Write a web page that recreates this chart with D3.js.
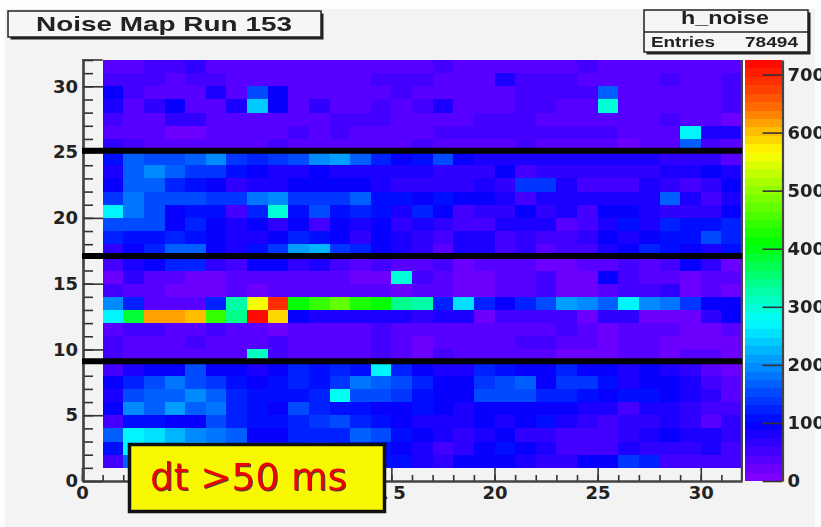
<!DOCTYPE html>
<html>

<head>
    <meta charset="utf-8">
    <style>
        html, body {
            margin: 0;
            background: #fdfdfd;
            overflow: hidden;
        }

        svg {
            display: block;
            filter: blur(0.55px);
        }

        text {
            font-family: 'DejaVu Sans', sans-serif;
            font-weight: bold;
            fill: #222;
        }

        .box-text {
            font-family: 'Liberation Sans', Arial, sans-serif;
            font-weight: bold;
        }

        .tag-text {
            font-family: 'DejaVu Sans', sans-serif;
            font-weight: normal;
            fill: #f00000;
            filter: drop-shadow(1.2px 1.2px 0.5px #444);
        }
    </style>
</head>

<body>
    <svg width="821" height="527"></svg>
</body>

<script src="https://d3js.org/d3.v7.min.js"></script>

<script>
//-----------------------------DATA-----------------------------//
//Each row is one y bin, values for x bins 1 to 31 (row 1 and 2 partly hidden by the yellow box, guessed there)
let row31 = [35,35,45,45,60,35,30,30,30,30,30,30,30,35,35,35,45,35,35,35,35,35,35,45,35,35,40,40,35,40,40]
let row30 = [50,50,50,35,45,45,30,30,30,30,30,30,30,50,50,45,35,40,40,80,45,45,55,35,35,35,35,45,35,40,45]
let row29 = [95,50,35,35,35,75,30,150,95,30,30,30,30,35,50,35,30,40,40,30,45,45,55,45,160,35,35,35,35,40,45]
let row28 = [80,35,60,95,30,35,75,235,95,35,70,35,35,50,35,50,85,40,40,40,45,45,35,35,300,35,35,35,35,40,50]
let row27 = [45,35,35,70,60,35,35,35,35,35,35,50,50,50,35,35,30,40,50,50,50,40,40,40,40,35,35,45,35,35,20]
let row26 = [40,35,30,20,18,30,30,30,30,50,35,50,35,35,35,35,45,45,45,55,55,45,45,45,45,35,40,40,270,80,80]
let row25 = [60,55,35,30,30,30,30,30,50,35,35,35,35,35,35,45,35,30,30,35,45,30,35,30,40,25,35,35,160,50,35]
let row24 = [105,170,150,150,170,190,140,130,140,150,200,205,160,120,100,105,150,90,75,85,85,85,85,85,75,85,85,70,70,60,40]
let row23 = [80,170,195,165,140,140,110,100,85,85,100,80,80,80,80,85,65,65,65,100,45,70,70,70,70,65,65,85,85,100,75]
let row22 = [100,170,170,130,110,100,60,75,75,90,90,95,95,80,65,70,60,60,85,70,140,140,75,55,55,55,85,70,50,70,95]
let row21 = [140,185,150,150,150,135,135,175,200,135,135,135,160,105,110,90,105,90,90,75,50,75,75,75,85,85,85,170,75,50,85]
let row20 = [270,185,150,100,110,105,55,125,295,110,145,110,120,105,80,130,100,50,70,70,90,60,75,55,100,100,85,70,60,60,100]
let row19 = [145,145,145,100,125,95,75,95,60,95,50,90,80,95,60,85,60,55,55,75,75,75,35,50,80,110,85,130,110,110,130]
let row18 = [120,105,105,125,110,100,80,80,100,125,110,95,70,95,80,70,55,85,75,55,70,55,55,70,100,80,100,110,110,145,120]
let row17 = [70,100,130,160,160,100,85,110,140,210,230,140,120,100,85,70,30,80,75,50,70,35,55,55,85,95,130,110,100,75,110]
let row16 = [55,80,100,125,125,70,45,90,100,60,80,55,40,45,40,30,55,25,40,35,35,25,25,40,40,55,40,50,95,60,25]
let row15 = [25,60,40,40,25,25,35,35,35,35,35,35,25,25,300,50,40,25,25,35,35,50,25,25,95,50,35,35,25,40,40]
let row14 = [55,40,40,25,25,25,40,25,35,35,35,35,35,35,25,30,40,25,25,35,35,50,25,25,35,50,50,65,25,35,25]
let row13 = [200,130,30,30,30,120,320,560,690,415,440,470,430,415,345,320,120,250,120,100,125,150,205,190,170,275,200,185,140,90,90]
let row12 = [270,390,620,620,600,440,345,720,590,100,80,85,85,75,85,70,75,75,25,50,45,45,45,25,70,60,25,25,25,70,100]
let row11 = [35,50,50,40,35,50,35,35,25,40,30,30,30,50,40,35,35,35,35,35,35,40,45,35,25,40,30,30,25,25,30]
let row10 = [50,35,35,35,50,40,35,35,50,30,30,40,30,50,40,25,35,35,35,35,55,50,40,35,25,40,35,25,25,25,25]
let row9 = [50,35,35,35,35,30,35,310,50,30,30,30,35,50,35,25,50,35,30,30,30,30,25,25,25,40,35,25,40,30,25]
let row8 = [45,80,95,90,150,100,90,80,95,130,110,130,105,270,120,95,75,85,130,105,100,90,130,100,100,80,100,85,70,40,25]
let row7 = [90,120,155,175,150,140,110,100,105,120,115,140,180,165,150,125,100,100,135,150,165,100,135,135,110,85,100,95,75,50,40]
let row6 = [80,145,160,170,190,160,125,110,110,115,130,280,150,150,140,110,100,100,145,145,145,130,130,115,95,110,110,90,75,65,40]
let row5 = [95,200,165,210,170,180,130,115,95,150,125,110,105,100,100,115,95,80,95,95,95,95,95,80,80,55,75,75,70,55,45]
let row4 = [55,105,105,95,90,145,130,110,110,125,140,150,125,105,100,85,85,80,90,75,90,115,85,70,50,70,70,85,70,40,60]
let row3 = [170,270,250,220,200,180,160,100,90,120,130,120,170,150,115,100,80,60,85,90,70,70,55,55,55,65,75,95,75,80,65]
let row2 = [110,265,250,230,220,200,170,130,120,130,140,130,120,110,100,75,55,70,95,110,95,80,55,55,55,80,60,60,60,80,50]
let row1 = [50,160,150,140,130,120,110,110,100,110,120,110,100,105,110,80,70,100,100,95,85,70,65,90,100,140,120,55,50,50,50]

let rows = [row1,row2,row3,row4,row5,row6,row7,row8,row9,row10,row11,row12,row13,row14,row15,row16,
            row17,row18,row19,row20,row21,row22,row23,row24,row25,row26,row27,row28,row29,row30,row31]

//Black lines drawn over the map
let separators = [25.1, 17.1, 9.1]

let axisTicks = [0, 5, 10, 15, 20, 25, 30]
let colorTicks = [0, 100, 200, 300, 400, 500, 600, 700]
let zMax = 725

//Palette stops
let paletteValues = [0, 100, 200, 275, 330, 410, 500, 565, 600, 650, 725]
let paletteColors = ["#8a00ff", "#0000ff", "#0090ff", "#00ffff", "#00ffa0", "#00ff00", "#90ff00", "#ffff00", "#ffc000", "#ff6000", "#ff0000"]

let titleText = "Noise Map Run 153"
let statsName = "h_noise"
let statsLabel = "Entries"
let statsValue = "78494"
let tagText = "dt >50 ms"

//------------------------1. PREPARATION------------------------//
let svg = d3.select("svg")

let margins = {top: 60, right: 742, bottom: 481, left: 82}

let x = d3.scaleLinear().domain([0, 32]).range([margins.left, margins.right])
let y = d3.scaleLinear().domain([0, 32]).range([margins.bottom, margins.top])
let z = d3.scaleLinear().domain([0, zMax]).range([margins.bottom, margins.top])

//ROOT style palette: 50 flat steps
let levels = 50
let step = zMax / levels
let ramp = d3.scaleLinear().domain(paletteValues).range(paletteColors)
let color = function(v){
    return ramp((Math.min(Math.floor(v / step), levels - 1) + 0.5) * step)
}

//----------------------------BACKGROUND------------------------//
svg.append("rect")
    .attr("x", 5).attr("y", 9)
    .attr("width", 810).attr("height", 518)
    .attr("fill", "#f3f3f3")

//----------------------------HEATMAP---------------------------//
let cells = []
rows.forEach(function(row, j){
    row.forEach(function(v, i){
        cells.push({bx: i + 1, by: j + 1, v: v})
    })
})

svg.append("g")
    .selectAll("rect")
    .data(cells)
    .join("rect")
    .attr("x", d => x(d.bx))
    .attr("y", d => y(d.by + 1))
    .attr("width", d => x(d.bx + 1) - x(d.bx))
    .attr("height", d => y(d.by) - y(d.by + 1))
    .attr("fill", d => color(d.v))
    .attr("shape-rendering", "crispEdges")

//----------------------------AXES------------------------------//
function styleAxis(g){
    g.selectAll("line").attr("stroke", "#333").attr("stroke-width", 1.6)
    g.selectAll(".domain").attr("stroke", "#444").attr("stroke-width", 2.2)
    g.selectAll("text").attr("font-size", 18).attr("font-family", null).attr("fill", "#222")
}

//X axis, minor and major ticks
svg.append("g")
    .attr("transform", `translate(0,${margins.bottom})`)
    .call(d3.axisBottom(x).tickValues(d3.range(0, 32)).tickSize(-6).tickSizeOuter(0).tickFormat(""))
    .call(styleAxis)

svg.append("g")
    .attr("transform", `translate(0,${margins.bottom})`)
    .call(d3.axisBottom(x).tickValues(axisTicks).tickSize(-13).tickSizeOuter(0).tickPadding(5).tickFormat(d3.format("d")))
    .call(styleAxis)
    .call(g => g.selectAll("text").attr("dy", "1.0em").attr("y", 0))
    //the 1 of 15 has to sit behind the yellow box, only the 5 shows
    .call(g => g.selectAll("text").filter(d => d == 15)
        .attr("text-anchor", "end")
        .attr("letter-spacing", 5)
        .attr("dx", 19))

//Y axis, minor and major ticks
svg.append("g")
    .attr("transform", `translate(${margins.left + 1},0)`)
    .call(d3.axisLeft(y).tickValues(d3.range(1, 33)).tickSize(-10).tickSizeOuter(0).tickFormat(""))
    .call(styleAxis)

svg.append("g")
    .attr("transform", `translate(${margins.left + 1},0)`)
    .call(d3.axisLeft(y).tickValues(axisTicks).tickSize(-20).tickSizeOuter(0).tickPadding(5).tickFormat(d3.format("d")))
    .call(styleAxis)

//Cap on top of the y axis and frame on the right
svg.append("line")
    .attr("x1", x(0)).attr("x2", x(1))
    .attr("y1", y(32)).attr("y2", y(32))
    .attr("stroke", "#333").attr("stroke-width", 1.6)

svg.append("line")
    .attr("x1", x(32)).attr("x2", x(32))
    .attr("y1", y(32)).attr("y2", y(0))
    .attr("stroke", "#444").attr("stroke-width", 2.4)

//----------------------------SEPARATORS------------------------//
svg.append("g")
    .selectAll("line")
    .data(separators)
    .join("line")
    .attr("x1", x(0))
    .attr("x2", x(32))
    .attr("y1", d => y(d))
    .attr("y2", d => y(d))
    .attr("stroke", "black")
    .attr("stroke-width", 6)

//----------------------------COLOUR BAR------------------------//
svg.append("rect")
    .attr("x", 743).attr("y", margins.top)
    .attr("width", 3).attr("height", margins.bottom - margins.top)
    .attr("fill", "#fbfbfb")

svg.append("g")
    .selectAll("rect")
    .data(d3.range(levels))
    .join("rect")
    .attr("x", 745)
    .attr("width", 37)
    .attr("y", d => z((d + 1) * step))
    .attr("height", d => z(d * step) - z((d + 1) * step))
    .attr("fill", d => color((d + 0.5) * step))
    .attr("shape-rendering", "crispEdges")

svg.append("g")
    .attr("transform", "translate(782.5,0)")
    .call(d3.axisRight(z).tickValues(colorTicks).tickSize(-20).tickSizeOuter(0).tickPadding(5).tickFormat(d3.format("d")))
    .call(styleAxis)

//----------------------------TITLE BOX-------------------------//
function drawBox(bx, by, bw, bh){
    svg.append("rect")
        .attr("x", bx + 2.5).attr("y", by + 2.5)
        .attr("width", bw).attr("height", bh)
        .attr("fill", "#222")
    svg.append("rect")
        .attr("x", bx).attr("y", by)
        .attr("width", bw).attr("height", bh)
        .attr("fill", "#f6f6f6")
        .attr("stroke", "#222")
        .attr("stroke-width", 1.5)
}

drawBox(8, 11, 313, 26)

svg.append("text")
    .attr("class", "box-text")
    .attr("x", 36).attr("y", 31)
    .attr("font-size", 21)
    .attr("textLength", 256)
    .attr("lengthAdjust", "spacingAndGlyphs")
    .text(titleText)

//----------------------------STATS BOX-------------------------//
drawBox(644, 10, 164, 42)

svg.append("line")
    .attr("x1", 644).attr("x2", 808)
    .attr("y1", 32).attr("y2", 32)
    .attr("stroke", "#222").attr("stroke-width", 1.5)

svg.append("text")
    .attr("class", "box-text")
    .attr("x", 681).attr("y", 24)
    .attr("font-size", 18)
    .attr("textLength", 88)
    .attr("lengthAdjust", "spacingAndGlyphs")
    .text(statsName)

svg.append("text")
    .attr("class", "box-text")
    .attr("x", 651).attr("y", 47)
    .attr("font-size", 15)
    .attr("textLength", 64)
    .attr("lengthAdjust", "spacingAndGlyphs")
    .text(statsLabel)

svg.append("text")
    .attr("class", "box-text")
    .attr("x", 745).attr("y", 47)
    .attr("font-size", 15)
    .attr("textLength", 53)
    .attr("lengthAdjust", "spacingAndGlyphs")
    .text(statsValue)

//----------------------------YELLOW TAG------------------------//
svg.append("rect")
    .attr("x", 129.5).attr("y", 444.5)
    .attr("width", 255).attr("height", 67)
    .attr("fill", "#f8f800")
    .attr("stroke", "#111")
    .attr("stroke-width", 3.5)

svg.append("text")
    .attr("class", "tag-text")
    .attr("x", 150).attr("y", 490)
    .attr("font-size", 37)
    .attr("textLength", 197)
    .attr("lengthAdjust", "spacingAndGlyphs")
    .text(tagText)

</script>
</html>
